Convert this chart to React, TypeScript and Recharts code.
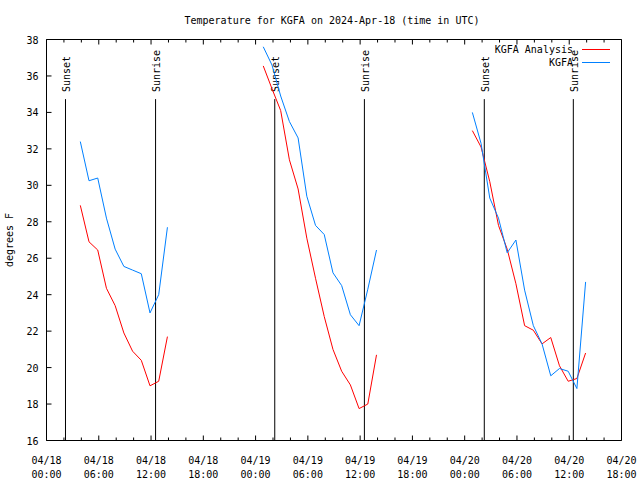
/**
 * KGFA temperature chart: analysis vs observed, three nights with sunset/sunrise marks.
 */

import { LineChart, Line, XAxis, YAxis, ReferenceLine, Legend } from 'recharts'

// hours since 04/18 00:00 UTC of each observation (hh:53)
const night1Hours = [3.88, 4.88, 5.88, 6.88, 7.88, 8.88, 9.88, 10.88, 11.88, 12.88, 13.88]
const night2Hours = [24.88, 25.88, 26.88, 27.88, 28.88, 29.88, 30.88, 31.88, 32.88, 33.88, 34.88, 35.88, 36.88, 37.88]
const night3Hours = [48.88, 49.88, 50.88, 51.88, 52.88, 53.88, 54.88, 55.88, 56.88, 57.88, 58.88, 59.88, 60.88, 61.88]

// KGFA Analysis (red)
const analysis1 = [28.9, 26.9, 26.45, 24.35, 23.4, 21.9, 20.9, 20.4, 19.0, 19.25, 21.7]
const analysis2 = [36.55, 35.3, 34.1, 31.4, 29.8, 27.1, 24.9, 22.8, 21.0, 19.8, 19.05, 17.75, 18.0, 20.7]
const analysis3 = [33.0, 32.1, 30.2, 27.8, 26.5, 24.6, 22.3, 22.05, 21.3, 21.65, 20.1, 19.25, 19.4, 20.8]

// KGFA observed (blue)
const observed1 = [32.4, 30.25, 30.4, 28.2, 26.5, 25.55, 25.35, 25.15, 23.0, 24.0, 27.7]
const observed2 = [37.6, 36.6, 34.9, 33.5, 32.6, 29.4, 27.8, 27.3, 25.2, 24.5, 22.9, 22.3, 24.3, 26.45]
const observed3 = [34.0, 32.3, 29.3, 28.2, 26.3, 27.0, 24.25, 22.3, 21.3, 19.55, 19.95, 19.8, 18.85, 24.7]

const sunsetHours = [2.18, 26.2, 50.25]
const sunriseHours = [12.52, 36.49, 60.47]

const xTicks = [0, 2, 4, 6, 8, 10, 12, 14, 16, 18, 20, 22, 24, 26, 28, 30, 32, 34, 36, 38, 40, 42, 44, 46, 48, 50, 52, 54, 56, 58, 60, 62, 64, 66]
const xLabelHours = [0, 6, 12, 18, 24, 30, 36, 42, 48, 54, 60, 66]
const xLabelDates = ['04/18', '04/18', '04/18', '04/18', '04/19', '04/19', '04/19', '04/19', '04/20', '04/20', '04/20', '04/20']
const xLabelTimes = ['00:00', '06:00', '12:00', '18:00', '00:00', '06:00', '12:00', '18:00', '00:00', '06:00', '12:00', '18:00']
const yTicks = [16, 18, 20, 22, 24, 26, 28, 30, 32, 34, 36, 38]

const SUN_LINE_TOP = 34.73
const FONT = '"DejaVu Sans Mono", monospace'
const RED = '#ff0000'
const BLUE = '#0080ff'

const nights = [
  { hours: night1Hours, analysis: analysis1, observed: observed1 },
  { hours: night2Hours, analysis: analysis2, observed: observed2 },
  { hours: night3Hours, analysis: analysis3, observed: observed3 },
]

// one table, with a null row after each night so the lines break
const chartData = nights.flatMap(n => [
  ...n.hours.map((t, i) => ({ t, analysis: n.analysis[i], observed: n.observed[i] })),
  { t: n.hours[n.hours.length - 1] + 0.5, analysis: null, observed: null },
])

const BottomTick = (props: any) => {
  const { x, y, payload } = props
  const idx = xLabelHours.indexOf(payload.value)
  const major = idx >= 0
  return (
    <g>
      <line x1={x} x2={x} y1={y} y2={y - (major ? 5 : 3)} stroke="#000" />
      {major && (
        <text x={x} y={y + 23} textAnchor="middle" fontSize={10} fontFamily={FONT} fill="#000">
          {xLabelDates[idx]}
        </text>
      )}
      {major && (
        <text x={x} y={y + 37.5} textAnchor="middle" fontSize={10} fontFamily={FONT} fill="#000">
          {xLabelTimes[idx]}
        </text>
      )}
    </g>
  )
}

const TopTick = (props: any) => {
  const { x, y, payload } = props
  const major = xLabelHours.includes(payload.value)
  return <line x1={x} x2={x} y1={y} y2={y + (major ? 5 : 3)} stroke="#000" />
}

const LeftTick = (props: any) => {
  const { x, y, payload } = props
  return (
    <g>
      <line x1={x} x2={x + 5} y1={y} y2={y} stroke="#000" />
      <text x={x - 8} y={y + 4} textAnchor="end" fontSize={10} fontFamily={FONT} fill="#000">
        {payload.value}
      </text>
    </g>
  )
}

const RightTick = (props: any) => {
  const { x, y } = props
  return <line x1={x} x2={x - 5} y1={y} y2={y} stroke="#000" />
}

const sunShape = (label: string) => (props: any) => {
  const { x1, y1, x2, y2 } = props
  const top = Math.min(y1, y2)
  return (
    <g>
      <line x1={x1} x2={x2} y1={y1} y2={y2} stroke="#000" strokeWidth={1} />
      <text
        transform={`translate(${x1 + 4.5},${top - 7}) rotate(-90)`}
        textAnchor="start"
        fontSize={10}
        fontFamily={FONT}
        fill="#000"
      >
        {label}
      </text>
    </g>
  )
}

const renderLegend = () => {
  const rows = [
    { name: 'KGFA Analysis', color: RED },
    { name: 'KGFA', color: BLUE },
  ]
  return (
    <div style={{ fontFamily: FONT, fontSize: 10, lineHeight: '13px', color: '#000' }}>
      {rows.map(r => (
        <div key={r.name} style={{ display: 'flex', justifyContent: 'flex-end', alignItems: 'center', height: 13 }}>
          <span>{r.name}</span>
          <svg width={28} height={13} style={{ marginLeft: 9, display: 'block' }}>
            <line x1={0} x2={28} y1={6.5} y2={6.5} stroke={r.color} strokeWidth={1} />
          </svg>
        </div>
      ))}
    </div>
  )
}

export default function App() {
  return (
    <div style={{ position: 'absolute', left: 0, top: 0, width: 640, height: 480, background: '#fff' }}>
      <LineChart
        width={640}
        height={480}
        data={chartData}
        margin={{ top: 38.5, right: 17.5, bottom: 0, left: 0.5 }}
      >
        <XAxis
          dataKey="t"
          type="number"
          domain={[0, 66]}
          ticks={xTicks}
          interval={0}
          height={39.5}
          tickSize={0}
          tickMargin={0}
          tickLine={false}
          tick={<BottomTick />}
          axisLine={{ stroke: '#000' }}
        />
        <XAxis
          xAxisId="top"
          orientation="top"
          dataKey="t"
          type="number"
          domain={[0, 66]}
          ticks={xTicks}
          interval={0}
          height={1}
          tickSize={0}
          tickMargin={0}
          tickLine={false}
          tick={<TopTick />}
          axisLine={{ stroke: '#000' }}
          label={{
            content: (p: any) => {
              const vb = p.viewBox
              return (
                <text x={vb.x + vb.width / 2 - 2} y={24} textAnchor="middle" fontSize={10} fontFamily={FONT} fill="#000">
                  Temperature for KGFA on 2024-Apr-18 (time in UTC)
                </text>
              )
            },
          }}
        />
        <YAxis
          type="number"
          domain={[16, 38]}
          ticks={yTicks}
          interval={0}
          width={46}
          tickSize={0}
          tickMargin={0}
          tickLine={false}
          tick={<LeftTick />}
          axisLine={{ stroke: '#000' }}
          label={{
            content: (p: any) => {
              const vb = p.viewBox
              const cy = vb.y + vb.height / 2
              return (
                <text transform={`translate(13,${cy}) rotate(-90)`} textAnchor="middle" fontSize={10} fontFamily={FONT} fill="#000">
                  degrees F
                </text>
              )
            },
          }}
        />
        <YAxis
          yAxisId="right"
          orientation="right"
          type="number"
          domain={[16, 38]}
          ticks={yTicks}
          interval={0}
          width={1}
          tickSize={0}
          tickMargin={0}
          tickLine={false}
          tick={<RightTick />}
          axisLine={{ stroke: '#000' }}
        />
        {sunsetHours.map(h => (
          <ReferenceLine
            key={`ss${h}`}
            segment={[{ x: h, y: 16 }, { x: h, y: SUN_LINE_TOP }]}
            stroke="#000"
            shape={sunShape('Sunset')}
          />
        ))}
        {sunriseHours.map(h => (
          <ReferenceLine
            key={`sr${h}`}
            segment={[{ x: h, y: 16 }, { x: h, y: SUN_LINE_TOP }]}
            stroke="#000"
            shape={sunShape('Sunrise')}
          />
        ))}
        <Line
          dataKey="analysis"
          name="KGFA Analysis"
          stroke={RED}
          strokeWidth={1}
          dot={false}
          activeDot={false}
          isAnimationActive={false}
        />
        <Line
          dataKey="observed"
          name="KGFA"
          stroke={BLUE}
          strokeWidth={1}
          dot={false}
          activeDot={false}
          isAnimationActive={false}
        />
        <Legend
          layout="horizontal"
          verticalAlign="middle"
          align="center"
          content={renderLegend}
          wrapperStyle={{ top: 42.5, right: 30, left: 'auto', bottom: 'auto', width: 'auto' }}
        />
      </LineChart>
    </div>
  )
}
